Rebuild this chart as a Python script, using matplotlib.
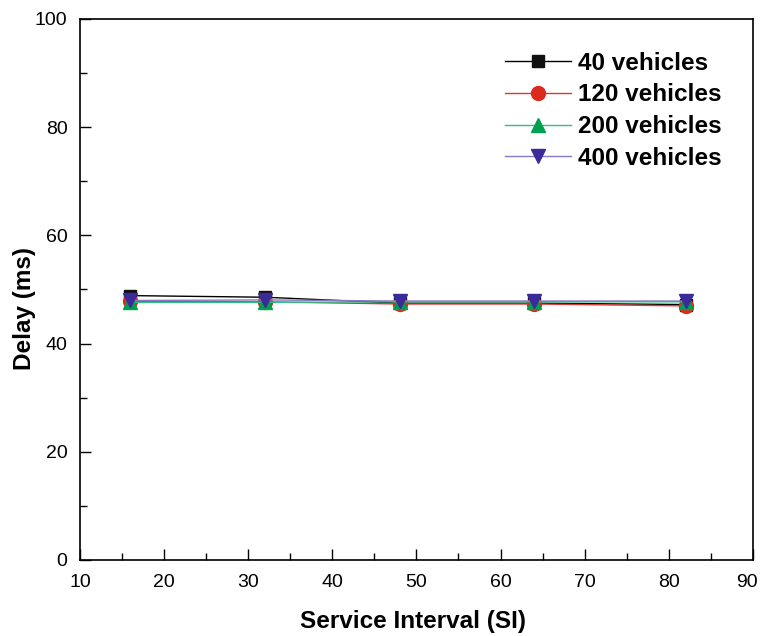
import matplotlib
matplotlib.use("Agg")
import matplotlib.pyplot as plt
import matplotlib.transforms as mtransforms
from matplotlib.ticker import MultipleLocator

plt.rcParams['font.family'] = ['Liberation Sans', 'DejaVu Sans']

si = [16, 32, 48, 64, 82]
v40 = [48.85, 48.55, 47.45, 47.45, 47.2]
v120 = [47.8, 47.7, 47.3, 47.3, 46.95]
v200 = [47.6, 47.6, 47.7, 47.7, 47.7]
v400 = [47.95, 48.05, 47.85, 47.85, 47.85]
labels = ['40 vehicles', '120 vehicles', '200 vehicles', '400 vehicles']
xticks = [10, 20, 30, 40, 50, 60, 70, 80, 90]
yticks = [0, 20, 40, 60, 80, 100]

fig = plt.figure(figsize=(7.62, 6.36), dpi=100)
ax = fig.add_axes([0.105, 0.1195, 0.883, 0.851])

ax.plot(si, v40, color='black', lw=1.0, marker='s', ms=8.5, mfc='#111111', mec='#111111', label=labels[0])
ax.plot(si, v120, color='#e03535', lw=1.0, marker='o', ms=10, mfc='#dd2a1e', mec='#dd2a1e', label=labels[1])
ax.plot(si, v200, color='#30c080', lw=1.0, marker='^', ms=10, mfc='#00a050', mec='#00a050', label=labels[2])
ax.plot(si, v400, color='#8878c8', lw=1.0, marker='v', ms=10, mfc='#3a2a9a', mec='#3a2a9a', label=labels[3])

ax.set_xlim(10, 90)
ax.set_ylim(0, 100)
ax.set_xticks(xticks)
ax.set_yticks(yticks)
ax.xaxis.set_minor_locator(MultipleLocator(5))
ax.yaxis.set_minor_locator(MultipleLocator(10))
ax.tick_params(which='major', direction='in', length=8, width=1.0, labelsize=14, top=False, right=False)
ax.tick_params(which='minor', direction='in', length=5, width=1.0, top=False, right=False)
ax.tick_params(axis='y', which='major', pad=9)
ax.tick_params(axis='x', which='major', pad=10)
for s in ax.spines.values():
    s.set_linewidth(1.2)

ax.set_xlabel('Service Interval (SI)', fontsize=17.5, fontweight='bold')
ax.set_ylabel('Delay (ms)', fontsize=17.5, fontweight='bold')
ax.xaxis.set_label_coords(0.495, -0.093)
ax.yaxis.set_label_coords(-0.066, 0.464)

leg = ax.legend(loc='upper right', bbox_to_anchor=(0.975, 0.966), frameon=False,
                prop={'size': 17.5, 'weight': 'bold'}, handlelength=2.7, handletextpad=0.3,
                labelspacing=0.36, borderaxespad=0.2)

last_tick = ax.xaxis.get_major_ticks()[len(xticks) - 1]
lbl = last_tick.label1
lbl.set_transform(lbl.get_transform() + mtransforms.ScaledTranslation(-6 / 100, 0, fig.dpi_scale_trans))

fig.savefig('out.png', dpi=100)
